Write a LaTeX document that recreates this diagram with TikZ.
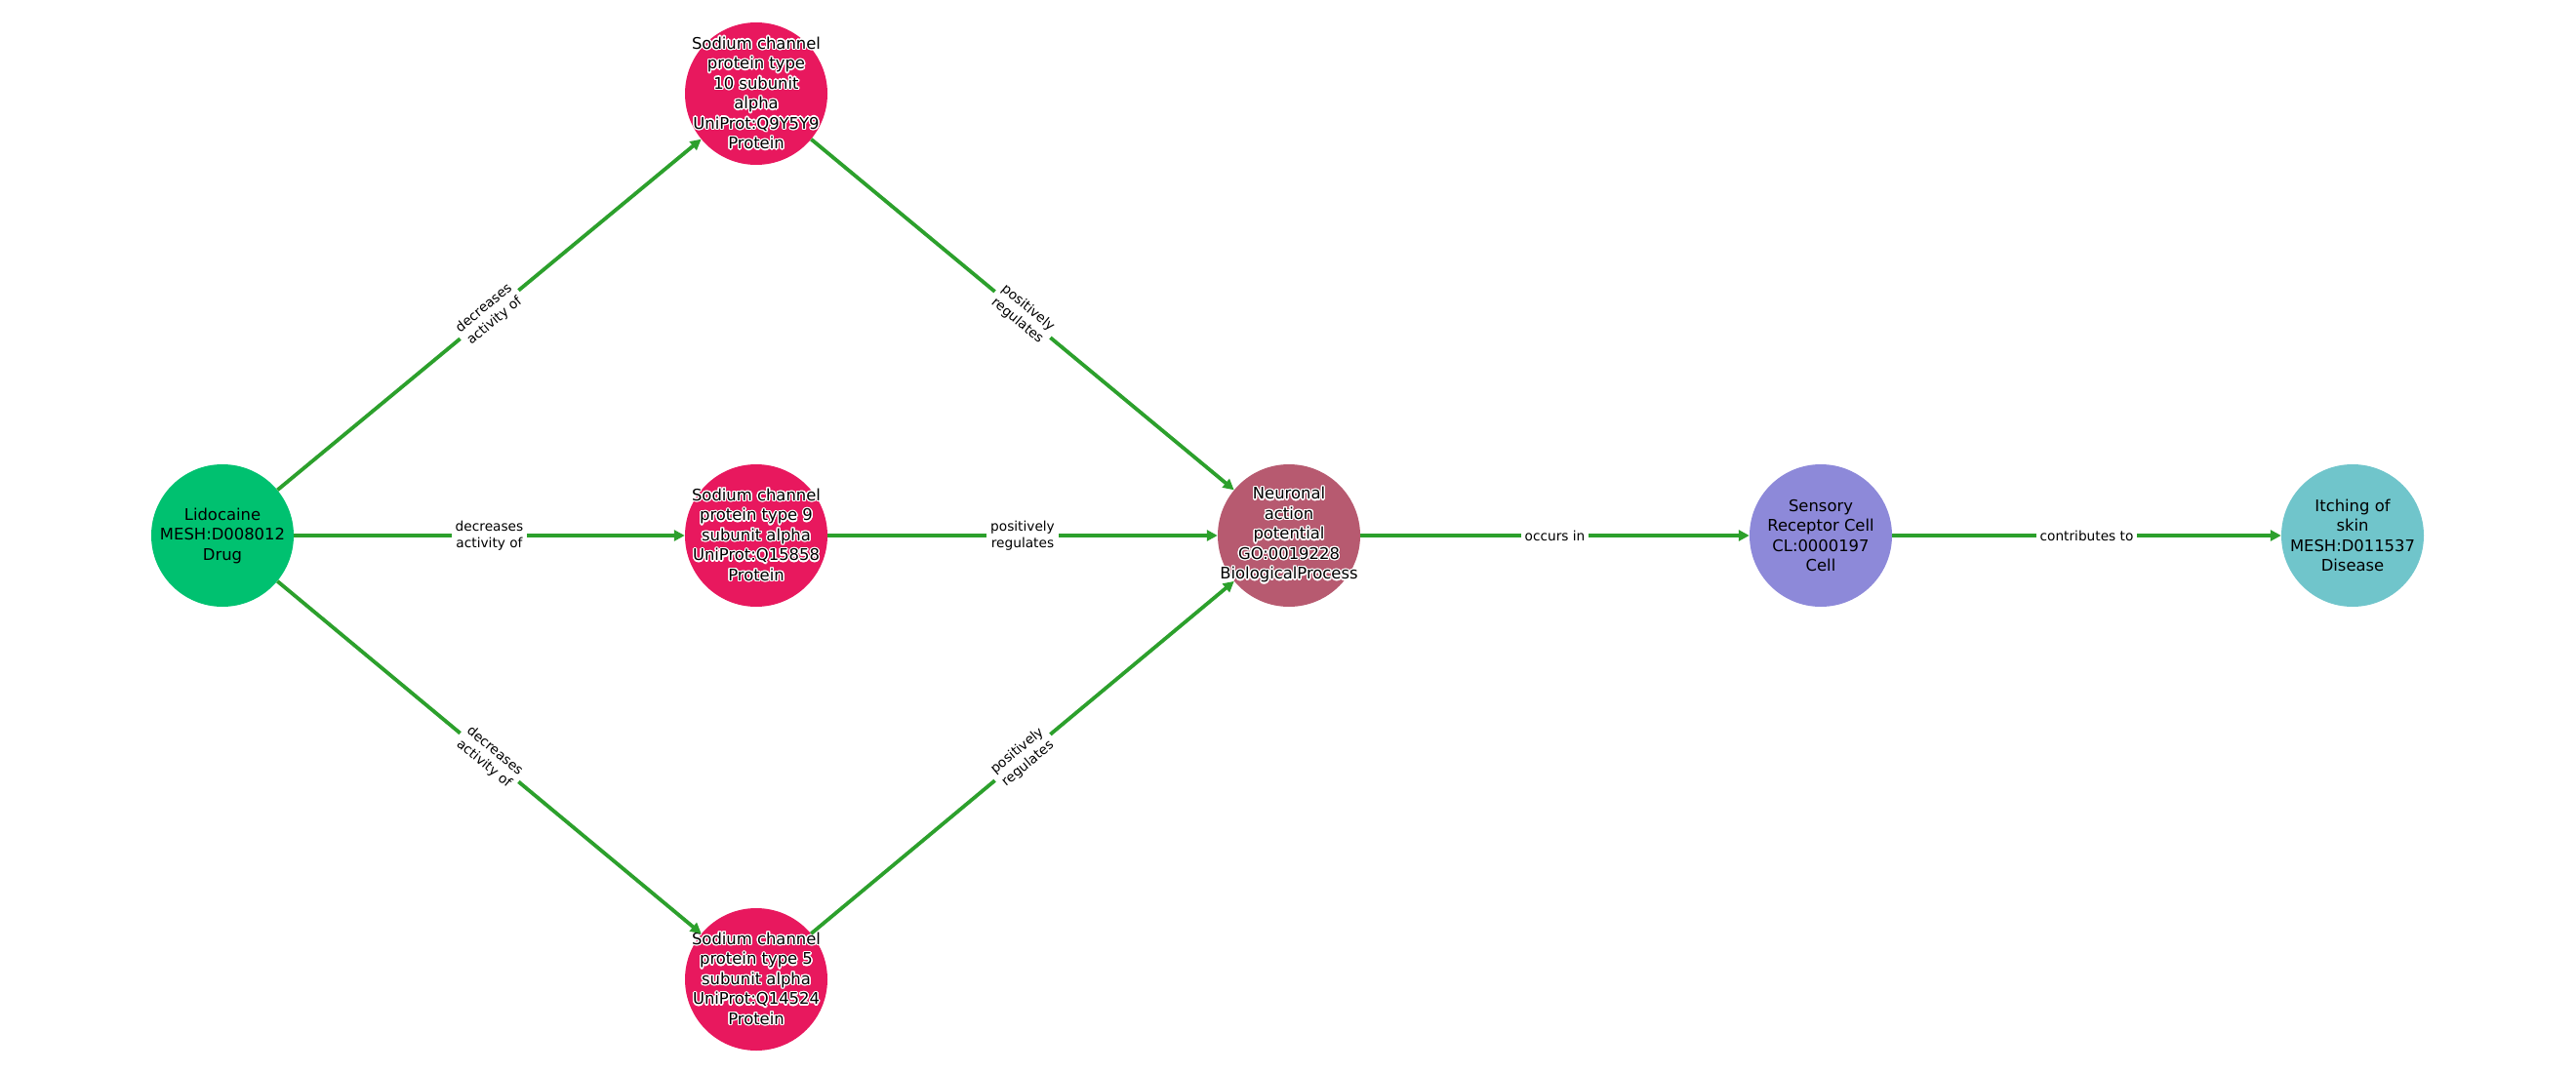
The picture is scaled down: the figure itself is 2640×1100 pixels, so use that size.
\documentclass[tikz,border=0pt]{standalone}
\usepackage{fontspec}
\setmainfont{DejaVu Sans}
\usepackage{contour}
\contourlength{1.3pt}
\usetikzlibrary{arrows.meta}
\definecolor{drugcol}{HTML}{00C170}
\definecolor{protcol}{HTML}{E8185E}
\definecolor{proccol}{HTML}{B75A70}
\definecolor{cellcol}{HTML}{8D89D9}
\definecolor{discol}{HTML}{70C5CB}
\definecolor{relcol}{HTML}{2CA02C}
\newcommand{\hl}[1]{\contour{white}{#1}}
\begin{document}
\begin{tikzpicture}[
        x=1pt, y=-1pt,
        entity/.style={circle, minimum size=146pt, inner sep=0pt},
        tag/.style={inner sep=0pt, align=center, font=\fontsize{16.4}{20.5}\selectfont},
        rel/.style={draw=relcol, line width=3.8pt, -{Triangle[length=11pt,width=11pt]}},
        lbl/.style={fill=white, inner sep=4pt, align=center, sloped,
          font=\fontsize{13.7}{17}\selectfont}
      ]
      \useasboundingbox (0,0) rectangle (2640,1100);
      \node[entity, fill=drugcol, label={[tag]center:Lidocaine\\MESH:D008012\\Drug}] (lido) at (228,549) {};
      \node[entity, fill=protcol, label={[tag]center:\hl{Sodium channel}\\\hl{protein type}\\\hl{10 subunit}\\\hl{alpha}\\\hl{UniProt:Q9Y5Y9}\\\hl{Protein}}] (nav10) at (775,96) {};
      \node[entity, fill=protcol, label={[tag]center:\hl{Sodium channel}\\\hl{protein type 9}\\\hl{subunit alpha}\\\hl{UniProt:Q15858}\\\hl{Protein}}] (nav9) at (775,549) {};
      \node[entity, fill=protcol, label={[tag]center:\hl{Sodium channel}\\\hl{protein type 5}\\\hl{subunit alpha}\\\hl{UniProt:Q14524}\\\hl{Protein}}] (nav5) at (775,1004) {};
      \node[entity, fill=proccol, label={[tag]center:\hl{Neuronal}\\\hl{action}\\\hl{potential}\\\hl{GO:0019228}\\\hl{BiologicalProcess}}] (nap) at (1321,549) {};
      \node[entity, fill=cellcol, label={[tag]center:Sensory\\Receptor Cell\\CL:0000197\\Cell}] (src) at (1866,549) {};
      \node[entity, fill=discol, label={[tag]center:Itching of\\skin\\MESH:D011537\\Disease}] (itch) at (2411,549) {};

      \draw[rel] (lido) -- node[lbl] {decreases\\activity of} (nav10);
      \draw[rel] (lido) -- node[lbl] {decreases\\activity of} (nav9);
      \draw[rel] (lido) -- node[lbl] {decreases\\activity of} (nav5);
      \draw[rel] (nav10) -- node[lbl] {positively\\regulates} (nap);
      \draw[rel] (nav9) -- node[lbl] {positively\\regulates} (nap);
      \draw[rel] (nav5) -- node[lbl] {positively\\regulates} (nap);
      \draw[rel] (nap) -- node[lbl] {occurs in} (src);
      \draw[rel] (src) -- node[lbl] {contributes to} (itch);
    \end{tikzpicture}
\end{document}
